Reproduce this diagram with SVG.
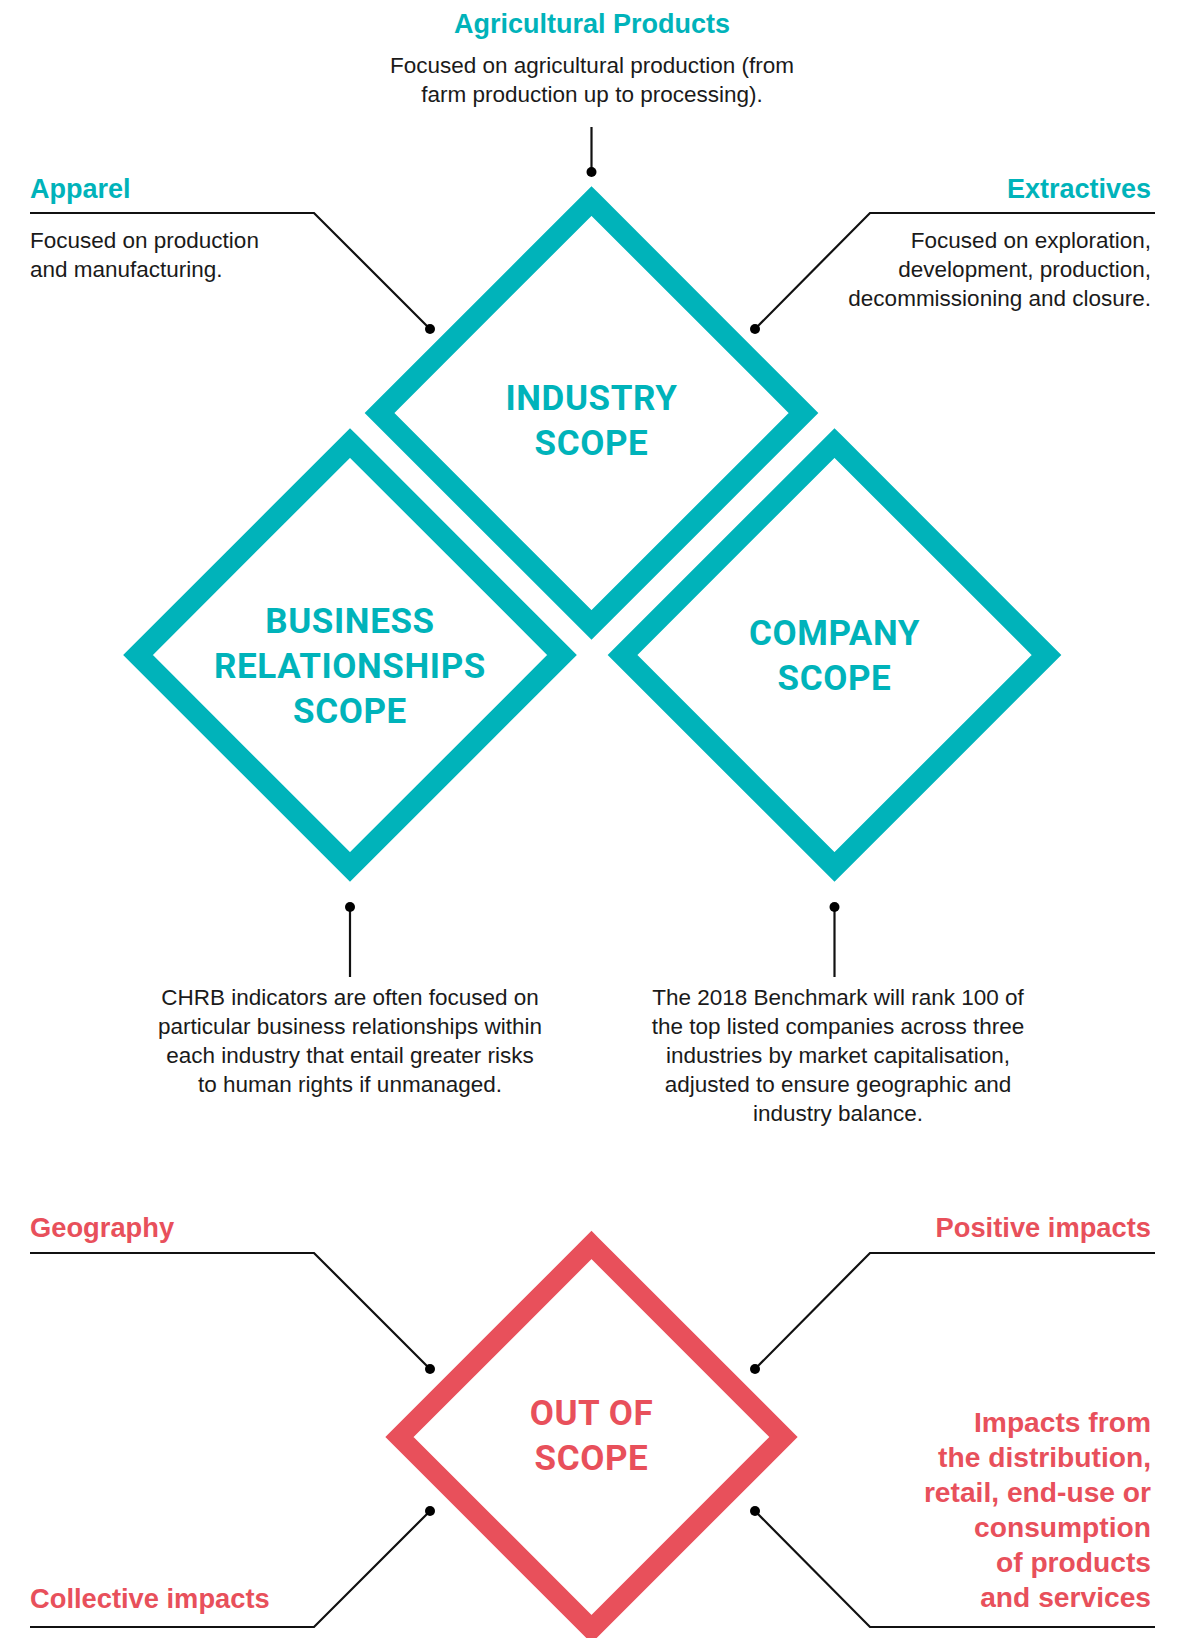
<svg xmlns="http://www.w3.org/2000/svg" width="1186" height="1638" viewBox="0 0 1186 1638">
<style>
.bg{fill:#ffffff}
.dt{fill:none;stroke:#00B3BA;stroke-width:21;stroke-linejoin:miter;stroke-miterlimit:10}
.dr{fill:none;stroke:#E8505B;stroke-width:20;stroke-linejoin:miter;stroke-miterlimit:10}
.ln{fill:none;stroke:#111111;stroke-width:2.2}
.dot{fill:#000000}
.ht{font-family:"Liberation Sans",Arial,sans-serif;font-weight:700;font-size:27px;fill:#00B3BA}
.hr{font-family:"Liberation Sans",Arial,sans-serif;font-weight:700;font-size:27.3px;fill:#E8505B}
.hb{font-size:28.2px}
.body{font-family:"Liberation Sans",Arial,sans-serif;font-size:22.5px;fill:#1a1a1a}
.kt{font-family:Roboto,"DejaVu Sans",sans-serif;font-weight:700;font-size:35px;fill:#00B3BA;letter-spacing:0.6px}
.kr{font-family:Roboto,"DejaVu Sans",sans-serif;font-weight:700;font-size:35px;fill:#E8505B;letter-spacing:0.6px}
.m{text-anchor:middle}
.e{text-anchor:end}
</style>
<rect class="bg" x="0" y="0" width="1186" height="1638"/>

<g id="connectors">
<path class="ln" d="M591.5 127 V172"/>
<circle class="dot" cx="591.5" cy="172" r="5"/>
<path class="ln" d="M30 213 H314 L430 329"/>
<circle class="dot" cx="430" cy="329" r="5"/>
<path class="ln" d="M1155 213 H870 L755 329"/>
<circle class="dot" cx="755" cy="329" r="5"/>
<path class="ln" d="M350 977 V907"/>
<circle class="dot" cx="350" cy="907" r="5"/>
<path class="ln" d="M834.5 977 V907"/>
<circle class="dot" cx="834.5" cy="907" r="5"/>
<path class="ln" d="M30 1253 H314 L430 1369"/>
<circle class="dot" cx="430" cy="1369" r="5"/>
<path class="ln" d="M1155 1253 H870 L755 1369"/>
<circle class="dot" cx="755" cy="1369" r="5"/>
<path class="ln" d="M30 1627 H314 L430 1511"/>
<circle class="dot" cx="430" cy="1511" r="5"/>
<path class="ln" d="M1155 1627 H870 L755 1511"/>
<circle class="dot" cx="755" cy="1511" r="5"/>
</g>

<g id="industry-scope">
<polygon class="dt" points="591.5,201 803.5,413 591.5,625 379.5,413"/>
<text class="kt m" x="591.5" y="410">INDUSTRY</text>
<text class="kt m" x="591.5" y="455">SCOPE</text>
</g>

<g id="business-relationships-scope">
<polygon class="dt" points="350,443 562,655 350,867 138,655"/>
<text class="kt m" x="350" y="633">BUSINESS</text>
<text class="kt m" x="350" y="678">RELATIONSHIPS</text>
<text class="kt m" x="350" y="723">SCOPE</text>
</g>

<g id="company-scope">
<polygon class="dt" points="834.5,443 1046.5,655 834.5,867 622.5,655"/>
<text class="kt m" x="834.5" y="645">COMPANY</text>
<text class="kt m" x="834.5" y="690">SCOPE</text>
</g>

<g id="out-of-scope">
<polygon class="dr" points="591.5,1245 783.5,1437 591.5,1629 399.5,1437"/>
<text class="kr m" x="591.5" y="1425">OUT OF</text>
<text class="kr m" x="591.5" y="1470">SCOPE</text>
</g>

<g id="agricultural-products">
<text class="ht m" x="592" y="33">Agricultural Products</text>
<text class="body m" x="592" y="73">Focused on agricultural production (from</text>
<text class="body m" x="592" y="102">farm production up to processing).</text>
</g>

<g id="apparel">
<text class="ht" x="30" y="198">Apparel</text>
<text class="body" x="30" y="248">Focused on production</text>
<text class="body" x="30" y="277">and manufacturing.</text>
</g>

<g id="extractives">
<text class="ht e" x="1151" y="198">Extractives</text>
<text class="body e" x="1151" y="248">Focused on exploration,</text>
<text class="body e" x="1151" y="277">development, production,</text>
<text class="body e" x="1151" y="306">decommissioning and closure.</text>
</g>

<g id="business-note">
<text class="body m" x="350" y="1005">CHRB indicators are often focused on</text>
<text class="body m" x="350" y="1034">particular business relationships within</text>
<text class="body m" x="350" y="1063">each industry that entail greater risks</text>
<text class="body m" x="350" y="1092">to human rights if unmanaged.</text>
</g>

<g id="company-note">
<text class="body m" x="838" y="1005">The 2018 Benchmark will rank 100 of</text>
<text class="body m" x="838" y="1034">the top listed companies across three</text>
<text class="body m" x="838" y="1063">industries by market capitalisation,</text>
<text class="body m" x="838" y="1092">adjusted to ensure geographic and</text>
<text class="body m" x="838" y="1121">industry balance.</text>
</g>

<g id="geography">
<text class="hr" x="30" y="1237">Geography</text>
</g>
<g id="positive-impacts">
<text class="hr e" x="1151" y="1237">Positive impacts</text>
</g>
<g id="collective-impacts">
<text class="hr" x="30" y="1608">Collective impacts</text>
</g>
<g id="downstream-impacts">
<text class="hr hb e" x="1151" y="1432">Impacts from</text>
<text class="hr hb e" x="1151" y="1467">the distribution,</text>
<text class="hr hb e" x="1151" y="1502">retail, end-use or</text>
<text class="hr hb e" x="1151" y="1537">consumption</text>
<text class="hr hb e" x="1151" y="1572">of products</text>
<text class="hr hb e" x="1151" y="1607">and services</text>
</g>
</svg>
